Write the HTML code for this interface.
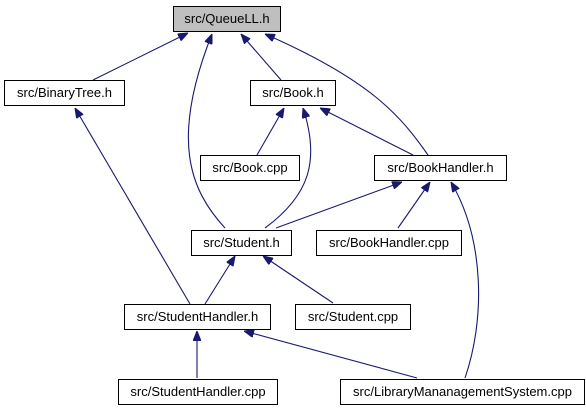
<!DOCTYPE html>
<html><head><meta charset="utf-8"><style>
html,body{margin:0;padding:0;background:#fff;width:586px;height:411px;overflow:hidden}
svg text{font-family:"Liberation Sans",Arial,sans-serif;font-size:13px;fill:#000}
</style></head><body>
<svg width="586" height="411" viewBox="0 0 586 411" xmlns="http://www.w3.org/2000/svg">
<defs><marker id="a" markerWidth="10" markerHeight="8" refX="10" refY="4" orient="auto" markerUnits="userSpaceOnUse"><path d="M0,0 L10,4 L0,8 Z" fill="#191970" stroke="#191970"/></marker></defs>
<g fill="none" stroke="#191970" stroke-width="1.1" marker-end="url(#a)">
<path d="M93,80 L188,33"/>
<path d="M225,228 C190,190 170,140 212,34"/>
<path d="M281,80 L241,34"/>
<path d="M428,155 C400,115 370,80 265,34"/>
<path d="M190,304 L75,108"/>
<path d="M257,155 L284,108"/>
<path d="M265,228 C310,195 320,160 303,108"/>
<path d="M413,155 L320,108"/>
<path d="M276,228 L402,182"/>
<path d="M398,228 L430,182"/>
<path d="M465,378 C485,320 485,240 451,182"/>
<path d="M205,304 L235,256"/>
<path d="M333,303 L263,256"/>
<path d="M197,378 L197,331"/>
<path d="M417,378 L244,331"/>
</g>
<g stroke="#000" stroke-width="1" fill="#fff">
<rect x="173.5" y="6.5" width="107" height="25" fill="#bfbfbf"/>
<rect x="4.5" y="80.5" width="120" height="25"/>
<rect x="250.5" y="80.5" width="85" height="25"/>
<rect x="200.5" y="155.5" width="99" height="25"/>
<rect x="374.5" y="155.5" width="132" height="25"/>
<rect x="191.5" y="230.5" width="100" height="25"/>
<rect x="316.5" y="230.5" width="145" height="25"/>
<rect x="124.5" y="304.5" width="146" height="25"/>
<rect x="295.5" y="304.5" width="115" height="25"/>
<rect x="118.5" y="379.5" width="159" height="25"/>
<rect x="340.5" y="379.5" width="244" height="25"/>
</g>
<g text-anchor="middle">
<text x="227" y="23">src/QueueLL.h</text>
<text x="64.5" y="97">src/BinaryTree.h</text>
<text x="293" y="97">src/Book.h</text>
<text x="250" y="172">src/Book.cpp</text>
<text x="440.5" y="172">src/BookHandler.h</text>
<text x="241.5" y="247">src/Student.h</text>
<text x="389" y="247">src/BookHandler.cpp</text>
<text x="197.5" y="321">src/StudentHandler.h</text>
<text x="353" y="321">src/Student.cpp</text>
<text x="198" y="396">src/StudentHandler.cpp</text>
<text x="462.5" y="396">src/LibraryMananagementSystem.cpp</text>
</g>
</svg>
</body></html>
